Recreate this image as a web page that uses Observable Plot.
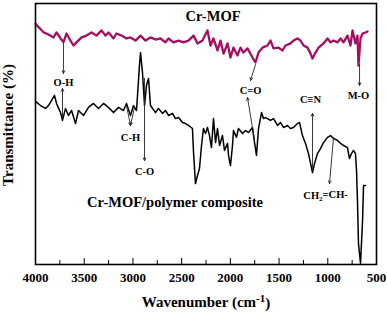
<!DOCTYPE html>
<html><head><meta charset="utf-8">
<script src="https://cdn.jsdelivr.net/npm/d3@7"></script>
<script src="https://cdn.jsdelivr.net/npm/@observablehq/plot@0.6"></script>
<style>body{margin:0;background:#fff}svg{display:block}</style>
</head><body><div id="chart"></div>
<script>
// Cr-MOF spectrum (wavenumber cm-1, transmittance a.u.)
const mofWavenumber = [4000,3918,3867,3815,3784,3743,3713,3682,3641,3610,3579,3528,3477,3425,3374,3323,3282,3251,3199,3169,3117,3066,3025,2974,2922,2871,2820,2768,2717,2666,2635,2584,2532,2481,2430,2378,2337,2286,2235,2204,2173,2132,2101,2070,2029,1999,1968,1927,1896,1865,1824,1773,1742,1711,1670,1619,1588,1557,1506,1465,1434,1383,1352,1311,1280,1249,1208,1177,1157,1126,1095,1044,1003,972,941,900,869,839,798,767,746,716,695,685,664,643,613,592];
const mofTransmittance = [92.2,89.0,88.1,87.0,88.9,86.6,85.2,88.5,85.8,83.9,85.1,87.0,87.7,88.9,87.7,89.7,87.7,88.9,86.6,88.5,87.7,86.6,87.0,85.8,87.7,85.8,87.0,86.2,86.6,85.1,86.6,85.1,85.8,85.1,85.8,87.7,84.7,85.8,89.7,83.9,86.6,82.0,85.8,80.8,84.7,79.3,83.1,80.1,83.1,81.2,82.8,79.3,77.4,81.2,83.1,83.9,85.8,82.8,83.1,82.0,83.9,84.7,85.8,86.6,85.8,83.9,83.1,80.8,78.9,81.2,83.1,84.7,86.6,85.1,85.8,85.1,86.6,85.1,87.7,83.9,89.7,84.7,87.7,76.2,86.6,88.5,88.9,89.3];

// Cr-MOF/polymer composite spectrum
const compWavenumber = [3990,3949,3897,3867,3836,3805,3784,3743,3723,3692,3661,3630,3589,3559,3507,3456,3405,3353,3302,3251,3199,3148,3097,3066,3025,2994,2963,2933,2922,2902,2881,2861,2840,2820,2768,2738,2696,2666,2635,2594,2563,2532,2491,2460,2430,2389,2378,2358,2337,2317,2296,2276,2255,2235,2214,2194,2173,2152,2132,2111,2081,2060,2029,2019,1999,1978,1968,1937,1917,1875,1845,1814,1773,1752,1732,1711,1680,1660,1639,1588,1557,1516,1485,1454,1413,1383,1352,1311,1290,1260,1229,1198,1157,1136,1106,1075,1044,1003,972,941,900,869,839,798,777,757,736,716,705,695,685,664,643,633,613];
const compTransmittance = [62.2,60.9,59.8,60.9,62.8,64.8,61.7,58.2,55.2,59.8,57.1,59.0,54.0,59.0,57.1,60.2,61.7,59.8,61.7,60.2,58.2,60.2,59.0,61.7,57.1,60.9,59.0,76.2,81.2,73.6,60.9,68.6,71.3,60.9,58.2,59.8,57.9,59.0,57.1,57.9,55.9,56.3,54.4,54.0,53.3,52.1,42.9,31.0,34.1,36.8,45.6,52.1,50.2,52.5,49.4,44.8,55.9,46.7,52.1,45.6,49.4,43.7,46.4,41.8,37.9,45.6,51.3,48.7,52.1,50.2,51.3,50.6,52.5,46.7,41.8,52.1,58.2,55.9,56.3,55.2,55.9,53.3,54.4,52.5,53.3,52.1,52.5,54.0,54.4,49.4,46.4,42.5,35.2,38.7,42.5,44.4,46.7,48.7,49.4,48.3,47.5,46.4,45.6,44.8,40.6,42.5,43.7,42.5,36.0,24.0,8.0,0.4,16.9,30.3,30.3];

const xTicks = [4000,3500,3000,2500,2000,1500,1000,500];
const minorTicks = [3750,3250,2750,2250,1750,1250,750];

// annotation arrows: [w1, t1, w2, t2]
const arrowList = [
  [3713,85.1,3713,73.2],
  [3723,55.9,3723,67.4],
  [3066,61.0,3025,53.3],
  [2984,60.2,3025,53.3],
  [2881,71.3,2881,39.8],
  [1742,76.6,1793,70.5],
  [1752,47.5,1824,64.0],
  [1157,36.0,1157,57.9],
  [941,48.7,982,31.0],
  [674,76.6,674,68.6]
];
const bandLabels = ["O-H","C-H","C-O","C=O","C≡N","CH2=CH-","M-O"];
const bandLabelW = [3713,3025,2881,1793,1177,1023,685];
const bandLabelT = [69.7,48.7,35.6,66.7,63.2,26.4,64.8];
const seriesLabels = ["Cr-MOF","Cr-MOF/polymer composite"];
const seriesLabelW = [2178,2568];
const seriesLabelT = [95.0,23.8];

const mof = mofWavenumber.map((w,i)=>({w, t: mofTransmittance[i]}));
const comp = compWavenumber.map((w,i)=>({w, t: compTransmittance[i]}));
const arrows = arrowList.map(([w1,t1,w2,t2])=>({w1,t1,w2,t2}));
const bands = bandLabels.map((text,i)=>({text, w: bandLabelW[i], t: bandLabelT[i]}));
const series = seriesLabels.map((text,i)=>({text, w: seriesLabelW[i], t: seriesLabelT[i]}));

const chart = Plot.plot({
  width: 387, height: 317,
  marginLeft: 35, marginRight: 11, marginTop: 3, marginBottom: 53,
  style: {fontFamily: "'Liberation Serif', 'Times New Roman', serif", background: "white", color: "black"},
  x: {domain: [4000, 500]},
  y: {domain: [0, 100], axis: null},
  marks: [
    Plot.axisX(xTicks, {tickSize: 0, tickPadding: 8, tickFormat: d => String(d), label: null, fontSize: 13, fontWeight: "bold"}),
    Plot.tickX(minorTicks, {x: d => d, insetTop: 257, stroke: "black", strokeWidth: 1}),
    Plot.tickX(xTicks, {x: d => d, insetTop: 255, stroke: "black", strokeWidth: 1}),
    Plot.line(mof, {x: "w", y: "t", stroke: "#a50f5f", strokeWidth: 2.3}),
    Plot.line(comp, {x: "w", y: "t", stroke: "black", strokeWidth: 1.5}),
    Plot.arrow(arrows, {x1: "w1", y1: "t1", x2: "w2", y2: "t2", stroke: "#222", strokeWidth: 0.9, headLength: 5, headAngle: 50}),
    Plot.text(bands, {x: "w", y: "t", text: "text", fontSize: 10.5, fontWeight: "bold"}),
    Plot.text(series, {x: "w", y: "t", text: "text", fontSize: 14.5, fontWeight: "bold"}),
    Plot.text(["Transmittance (%)"], {frameAnchor: "left", textAnchor: "middle", rotate: -90, dx: -27, dy: -9, fontSize: 15, fontWeight: "bold"}),
    Plot.text(["Wavenumber (cm-1)"], {frameAnchor: "bottom", dy: 42, fontSize: 15, fontWeight: "bold"}),
    Plot.frame({stroke: "black", strokeWidth: 1.6})
  ]
});
document.getElementById("chart").appendChild(chart);

// superscript / subscript formatting
d3.select(chart).selectAll("text").each(function() {
  const el = d3.select(this);
  const s = this.textContent;
  if (s === "Wavenumber (cm-1)") {
    el.text(null);
    el.append("tspan").text("Wavenumber (cm");
    el.append("tspan").attr("dy", "-0.45em").attr("font-size", "11px").text("-1");
    el.append("tspan").attr("dy", "0.45em").text(")");
  } else if (s === "CH2=CH-") {
    el.text(null);
    el.append("tspan").text("CH");
    el.append("tspan").attr("dy", "0.3em").attr("font-size", "7px").text("2");
    el.append("tspan").attr("dy", "-0.3em").text("=CH-");
  }
});
</script></body></html>
